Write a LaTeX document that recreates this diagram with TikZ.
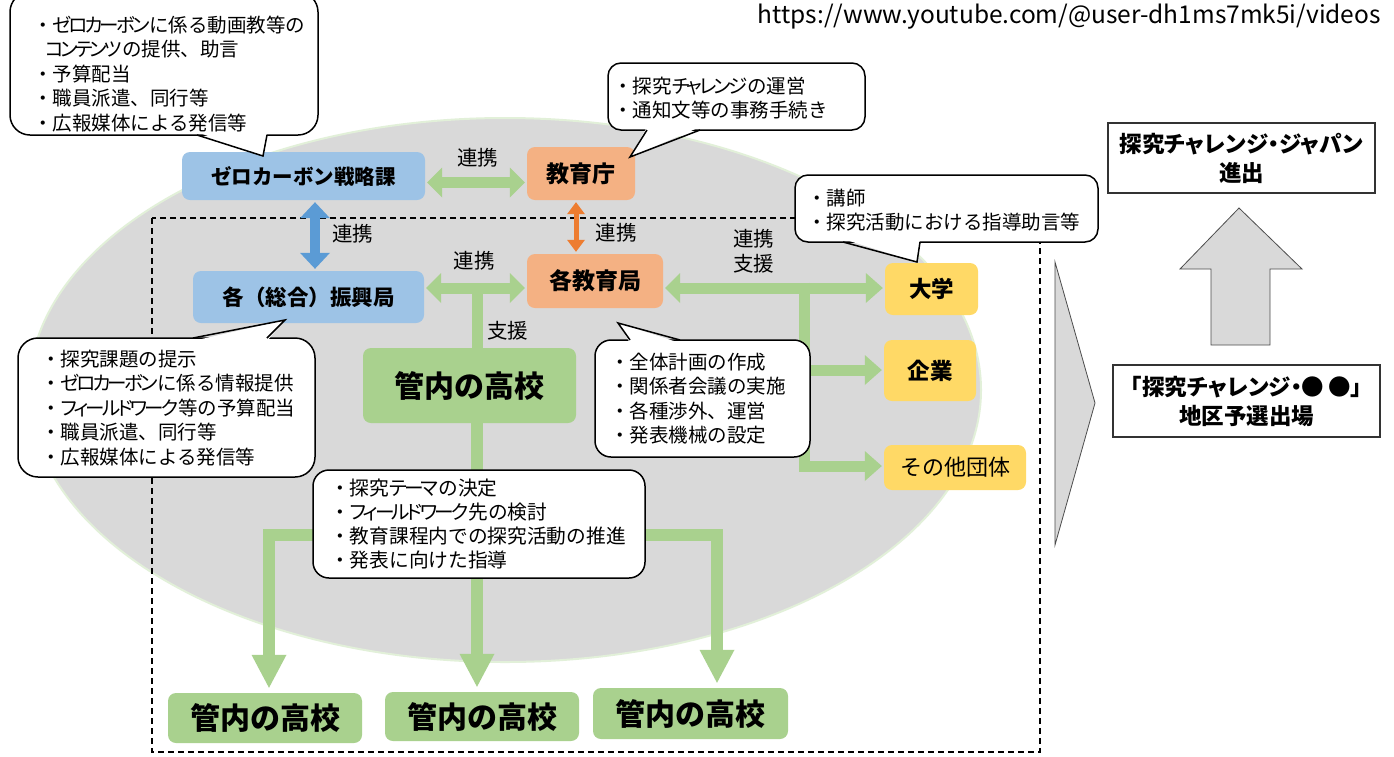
\documentclass[tikz,border=0pt]{standalone}
\usepackage{fontspec}
\setmainfont{Noto Sans CJK JP}
\newfontfamily\kpfont{Noto Sans CJK JP}[RawFeature={+palt}, LetterSpace=-15]
\newfontfamily\kbfont{Noto Sans CJK JP}[RawFeature={+palt}]
\newcommand{\kp}[1]{{\kpfont #1}}
\usetikzlibrary{arrows.meta}
\definecolor{ellgray}{HTML}{D9D9D9}
\definecolor{ellline}{HTML}{E2F0D9}
\definecolor{nblue}{HTML}{9DC3E6}
\definecolor{ablue}{HTML}{5B9BD5}
\definecolor{norange}{HTML}{F4B183}
\definecolor{aorange}{HTML}{ED7D31}
\definecolor{ngreen}{HTML}{A9D18E}
\definecolor{nyellow}{HTML}{FFD966}
\newcommand{\bul}{・}
\tikzset{
  gtip/.tip={Triangle[width=30pt,length=15pt,line width=0pt]},
  rtip/.tip={Triangle[width=30pt,length=17pt,line width=0pt]},
  gbig/.tip={Triangle[width=35pt,length=33pt,line width=0pt]},
  btip/.tip={Triangle[width=30pt,length=16pt,line width=0pt]},
  otip/.tip={Triangle[width=18pt,length=12pt,line width=0pt]},
}
\begin{document}
\begin{tikzpicture}[x=1pt,y=-1pt,
  nbox/.style={rounded corners=8pt, inner sep=0pt, align=center},
  bnode/.style={font=\bfseries\fontsize{#1}{#1}\selectfont},
  lbl/.style={inner sep=0pt, font=\fontsize{20.5}{24}\selectfont},
  callbox/.style={draw=black, fill=white, line width=1.5pt},
  calltext/.style={anchor=north west, inner sep=0pt, align=left, font=\fontsize{19.5}{24.5}\selectfont},
  garrow/.style={draw=ngreen, line width=11pt, shorten <=2pt, shorten >=2pt},
  gline/.style={draw=ngreen, line width=11pt},
  gbigarrow/.style={draw=ngreen, line width=12pt, shorten <=5pt, shorten >=5pt},
  resbox/.style={draw=black!80, fill=white, line width=1.5pt, inner sep=0pt, align=center, font=\kbfont\bfseries\fontsize{22.5}{29}\selectfont},
  blockarrow/.style={draw=black!70, fill=ellgray, line width=0.8pt},
]
\useasboundingbox (0,0) rectangle (1394,756);
\fill[white] (0,0) rectangle (1394,756);

% background ellipse and dashed frame
\draw[fill=ellgray, draw=ellline, line width=2pt] (505,390) ellipse [x radius=476pt, y radius=272pt];
\draw[dash pattern=on 6pt off 4pt, line width=1.3pt] (152,218) rectangle (1040,752);

% url
\node[anchor=east, inner sep=0pt, font=\fontsize{24.5}{28}\selectfont] (url) at (1381,17) {https://www.youtube.com/@user-dh1ms7mk5i/videos};

% main nodes
\node[nbox, fill=nblue, minimum width=243pt, minimum height=48pt, bnode=20.5] (zero) at (303.5,176) {ゼロカーボン戦略課};
\node[nbox, fill=norange, minimum width=108pt, minimum height=53pt, bnode=23] (kyo) at (581,173.5) {教育庁};
\node[nbox, fill=nblue, minimum width=231pt, minimum height=52pt, bnode=21.5] (shinko) at (308.5,297) {各（総合）振興局};
\node[nbox, fill=norange, minimum width=136pt, minimum height=54pt, bnode=23] (kyokyoku) at (595,281) {各教育局};
\node[nbox, fill=ngreen, minimum width=213pt, minimum height=75pt, bnode=30] (kannai) at (469.5,385.5) {管内の高校};
\node[nbox, fill=nyellow, minimum width=93pt, minimum height=52pt, bnode=22.5] (daigaku) at (931.5,289) {大学};
\node[nbox, fill=nyellow, minimum width=92pt, minimum height=61pt, bnode=22.5] (kigyo) at (930,370.5) {企業};
\node[nbox, fill=nyellow, minimum width=142pt, minimum height=45pt, font=\fontsize{22}{22}\selectfont] (sonota) at (955,467.5) {その他団体};
\node[nbox, fill=ngreen, minimum width=194pt, minimum height=50pt, bnode=30] (b1) at (265,718) {管内の高校};
\node[nbox, fill=ngreen, minimum width=194pt, minimum height=49pt, bnode=30] (b2) at (482,716.5) {管内の高校};
\node[nbox, fill=ngreen, minimum width=195pt, minimum height=51pt, bnode=30] (b3) at (690.5,713.5) {管内の高校};

% connector coordinates
\coordinate (a1) at (0,182.5);
\coordinate (bx) at (315,0);
\coordinate (ox) at (576,0);
\coordinate (tj) at (477,288);
\coordinate (rj) at (804,288);
\coordinate (rtop) at (804,282.5);
\coordinate (rmid) at (804,370);
\coordinate (rbot) at (804,466);
\coordinate (jl) at (269,535);
\coordinate (jm) at (477,535);
\coordinate (jr) at (717,535);

% connectors
\draw[garrow, {gtip}-{gtip}] (zero.east |- a1) -- (kyo.west |- a1);
\draw[draw=ablue, line width=10pt, shorten <=2pt, shorten >=2pt, {btip}-{btip}] (zero.south -| bx) -- (shinko.north -| bx);
\draw[draw=aorange, line width=5pt, shorten <=2pt, shorten >=2pt, {otip}-{otip}] (kyo.south -| ox) -- (kyokyoku.north -| ox);
\draw[garrow, {gtip}-{gtip}] (shinko.east |- tj) -- (kyokyoku.west |- tj);
\draw[gline] (tj) -- (kannai.north -| tj);
\draw[garrow, {gtip}-{rtip}] (kyokyoku.east |- rj) -- (daigaku.west |- rj);
\draw[garrow, shorten <=0pt, -{rtip}] (rtop) -- (rbot) -- (sonota.west |- rbot);
\draw[garrow, shorten <=0pt, -{rtip}] (rmid) -- (kigyo.west |- rmid);
\draw[gbigarrow, shorten <=0pt, -{gbig}] (kannai.south -| jm) -- (jm |- b2.north);
\draw[gbigarrow, {gbig}-{gbig}] (jl |- b1.north) -- (jl) -- (jr) -- (jr |- b3.north);

% connector labels
\node[lbl] (l1) at (477.5,158) {連携};
\node[lbl] (l2) at (352.5,234) {連携};
\node[lbl] (l3) at (616,232.5) {連携};
\node[lbl] (l4) at (474,261) {連携};
\node[lbl] (l5) at (507.5,331) {支援};
\node[lbl] (l6) at (753.5,238.5) {連携};
\node[lbl] (l7) at (753.5,264) {支援};

% callouts
\path[callbox, rounded corners=20pt] (10,-8) rectangle (318,135);
\fill[white] (197,132) -- (263,156) -- (267,132) -- cycle;
\draw[line width=1.5pt, line join=miter] (197,135) -- (263,156) -- (267,135);
\node[calltext] (c1) at (33,15.5) {\bul\kp{ゼロカーボン}に係る動画教等の\\\hspace{12pt}\kp{コンテンツ}の提供、助言\\\bul 予算配当\\\bul 職員派遣、同行等\\\bul 広報媒体による発信等};

\path[callbox, rounded corners=13pt] (608,63) rectangle (865,130);
\fill[white] (647,127) -- (630,157) -- (700,127) -- cycle;
\draw[line width=1.5pt, line join=miter] (647,130) -- (630,157) -- (700,130);
\node[calltext] (c2) at (613,76.5) {\bul 探究\kp{チャレンジ}の運営\\\bul 通知文等の事務手続き};

\path[callbox, rounded corners=13pt] (795,175) rectangle (1098,242);
\fill[white] (843,239) -- (917,262) -- (920,239) -- cycle;
\draw[line width=1.5pt, line join=miter] (843,242) -- (917,262) -- (920,242);
\node[calltext] (c3) at (807,188.5) {\bul 講師\\\bul 探究活動における指導助言等};

\path[callbox, rounded corners=20pt] (18,338) rectangle (315,477);
\fill[white] (193,341) -- (285,320) -- (267,341) -- cycle;
\draw[line width=1.5pt, line join=miter] (193,338) -- (285,320) -- (267,338);
\node[calltext] (c4) at (41,349.5) {\bul 探究課題の提示\\\bul\kp{ゼロカーボン}に係る情報提供\\\bul\kp{フィールドワーク}等の予算配当\\\bul 職員派遣、同行等\\\bul 広報媒体による発信等};

\path[callbox, rounded corners=16pt] (595,340) rectangle (810,457);
\fill[white] (630,343) -- (618,323) -- (680,343) -- cycle;
\draw[line width=1.5pt, line join=miter] (630,340) -- (618,323) -- (680,340);
\node[calltext] (c5) at (610,352.5) {\bul 全体計画の作成\\\bul 関係者会議の実施\\\bul 各種渉外、運営\\\bul 発表機械の設定};

\path[callbox, rounded corners=16pt] (313,470) rectangle (645,578);
\node[calltext, font=\fontsize{19.7}{24}\selectfont] (c6) at (330,478.5) {\bul 探究\kp{テーマ}の決定\\\bul\kp{フィールドワーク}先の検討\\\bul 教育課程内での探究活動の推進\\\bul 発表に向けた指導};

% right side
\draw[blockarrow] (1055,262) -- (1095,403) -- (1055,545) -- cycle;
\node[resbox, minimum width=267pt, minimum height=70pt] (japan) at (1241.5,158) {探究チャレンジ・ジャパン\\進出};
\node[resbox, minimum width=267pt, minimum height=72pt] (chiku) at (1246.5,401) {{\fontspec{Noto Sans CJK JP}「}探究チャレンジ・{\fontspec{Noto Sans CJK JP}●\,●」}\\地区予選出場};
\draw[blockarrow] (1211,345) -- (1211,269) -- (1180,269) -- (1239,208) -- (1302,269) -- (1270,269) -- (1270,345) -- cycle;
\end{tikzpicture}
\end{document}
